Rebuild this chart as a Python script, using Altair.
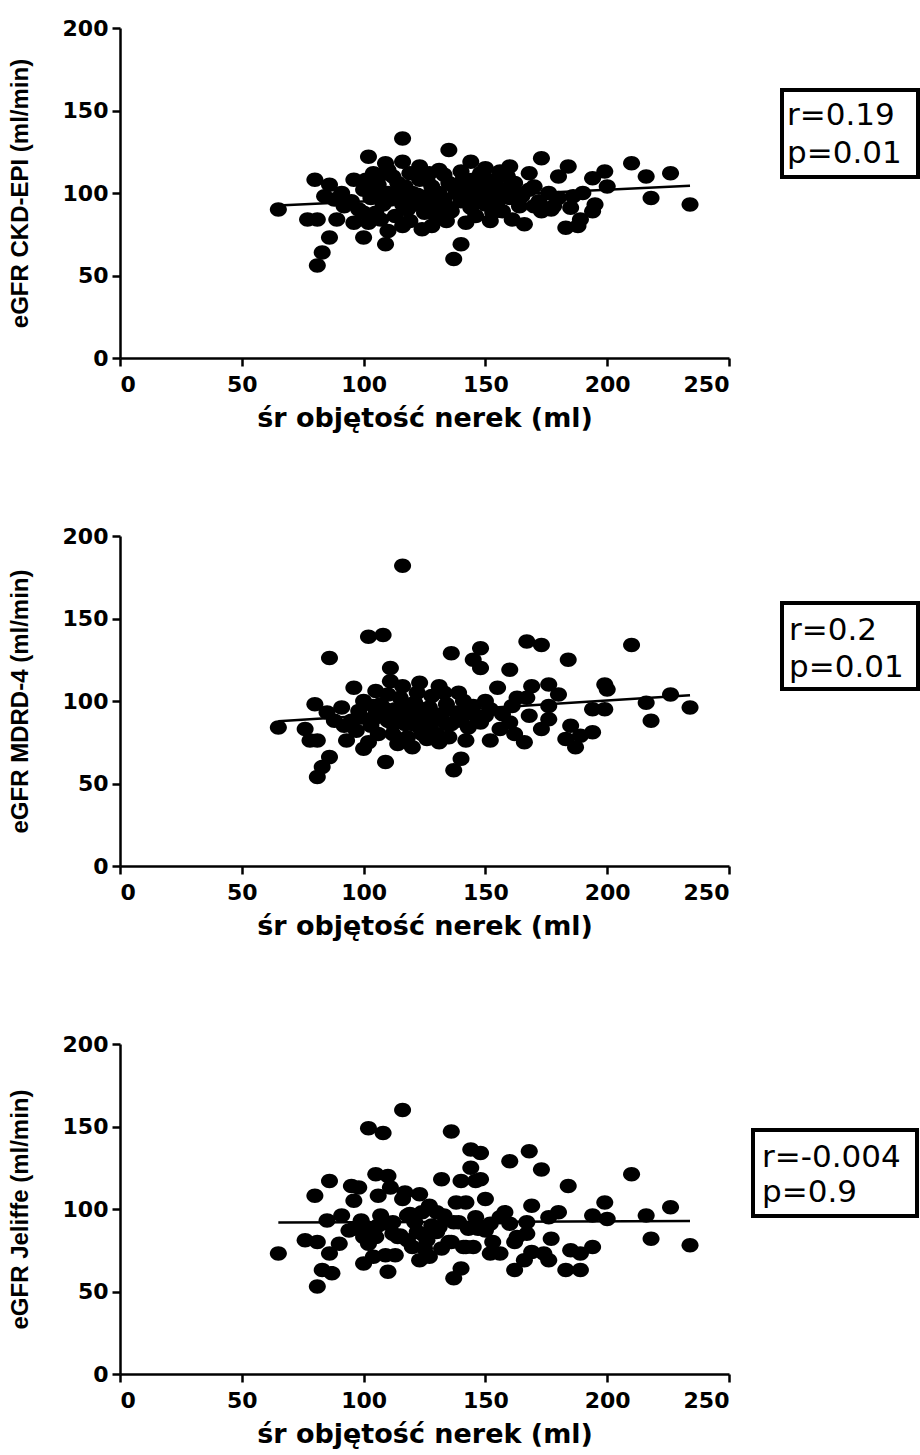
import altair as alt
import pandas as pd

# ---------------- data ----------------
x_ticks = [0, 50, 100, 150, 200, 250]
y_ticks = [0, 50, 100, 150, 200]
x_title = "śr objętość nerek (ml)"
y_titles = ["eGFR CKD-EPI (ml/min)", "eGFR MDRD-4 (ml/min)", "eGFR Jeliffe (ml/min)"]
r_labels = ["r=0.19", "r=0.2", "r=-0.004"]
p_labels = ["p=0.01", "p=0.01", "p=0.9"]

# Panel 1: CKD-EPI
x1 = [65, 80, 86, 84, 91, 96, 77, 81, 89, 86, 83, 81, 100, 109, 102, 110, 102, 116, 109, 116,
      123, 135, 133, 140, 144, 140, 137, 142, 124, 116, 130, 150, 160, 173, 184, 210, 226, 216, 199, 194,
      200, 180, 168, 168, 176, 218, 234, 170, 177, 173, 185, 194, 183, 188, 189, 152, 161, 166,
      95, 98, 100, 103, 105, 106, 108, 110, 112, 113, 115, 117, 118, 120, 121, 123, 125, 126, 128, 130,
      131, 133, 135, 136, 138, 140, 142, 144, 145, 147, 149, 150, 152, 154, 155, 157, 158, 160, 162, 164,
      104, 110, 118, 124, 127, 132, 146, 153, 159, 163, 170, 172, 180, 190, 195, 178, 186, 156, 113, 100,
      92, 88, 96, 107, 119, 128, 134, 143, 148, 165,
      101, 107, 114, 119, 126, 131, 137, 141, 146, 151, 156, 161, 128, 122, 116, 134, 140, 148, 111, 105]
y1 = [90, 108, 105, 98, 100, 108, 84, 84, 84, 73, 64, 56, 73, 69, 82, 77, 122, 133, 118, 119,
      116, 126, 111, 113, 119, 69, 60, 82, 78, 80, 85, 115, 116, 121, 116, 118, 112, 110, 113, 109,
      104, 110, 112, 102, 100, 97, 93, 92, 90, 89, 91, 89, 79, 80, 84, 83, 84, 81,
      95, 90, 102, 97, 88, 105, 93, 100, 110, 86, 97, 104, 90, 100, 93, 108, 88, 98, 104, 92,
      100, 96, 106, 89, 100, 95, 103, 91, 108, 98, 104, 93, 100, 107, 95, 89, 102, 97, 106, 92,
      112, 114, 96, 94, 112, 87, 86, 88, 110, 100, 104, 95, 97, 100, 93, 92, 98, 113, 99, 88,
      92, 96, 82, 84, 83, 80, 83, 97, 112, 98,
      108, 111, 106, 112, 108, 114, 104, 109, 101, 108, 99, 106, 96, 99, 93, 92, 100, 95, 96, 99]

# Panel 2: MDRD-4
x2 = [116, 102, 108, 86, 136, 148, 145, 111, 111, 96, 105, 123, 131, 116, 139, 80, 91, 85, 65, 76,
      78, 81, 93, 86, 83, 81, 100, 102, 109, 140, 137, 142, 120, 131, 124, 145, 148,
      167, 173, 210, 184, 160, 148, 169, 176, 199, 200, 180, 167, 155, 226, 216, 234, 218, 194, 199,
      176, 161, 168, 176, 173, 185, 194, 183, 187, 189, 152, 166, 162, 160, 150, 156,
      95, 98, 100, 103, 105, 107, 110, 112, 113, 115, 117, 119, 121, 123, 125, 127, 128, 130, 132, 134,
      136, 138, 141, 143, 146, 118, 126, 106, 97, 110, 135, 122, 140, 150, 152, 157, 163, 88, 92, 114,
      129, 133, 104,
      99, 104, 109, 114, 120, 124, 129, 134, 139, 144, 112, 117, 127]
y2 = [182, 139, 140, 126, 129, 132, 125, 120, 112, 108, 106, 111, 109, 109, 105, 98, 96, 93, 84, 83,
      76, 76, 76, 66, 60, 54, 71, 75, 63, 65, 58, 76, 72, 75, 80, 97, 87,
      136, 134, 134, 125, 119, 120, 109, 110, 110, 107, 104, 102, 108, 104, 99, 96, 88, 95, 95,
      97, 97, 91, 89, 83, 85, 81, 77, 72, 79, 76, 75, 80, 87, 91, 83,
      88, 94, 100, 85, 92, 98, 88, 80, 95, 102, 86, 92, 99, 84, 90, 96, 103, 80, 92, 98,
      86, 93, 100, 84, 91, 78, 77, 80, 82, 104, 78, 105, 88, 100, 95, 92, 102, 88, 85, 74,
      88, 105, 97,
      90, 89, 95, 90, 86, 95, 91, 86, 90, 94, 86, 98, 83]

# Panel 3: Jeliffe
x3 = [116, 102, 108, 136, 144, 148, 144, 132, 86, 80, 105, 110, 95, 98, 111, 123, 116, 106, 96, 140,
      146, 142, 85, 91, 65, 76, 81, 86, 90, 83, 87, 81, 100, 102, 110, 109, 123, 127, 137, 140,
      142, 130, 118, 124, 137, 101, 94, 114, 120, 105, 110, 131, 148, 145,
      168, 160, 173, 210, 184, 148, 150, 169, 180, 176, 199, 194, 200, 216, 226, 218, 234, 177, 167, 167,
      156, 160, 153, 162, 169, 166, 174, 176, 162, 185, 189, 194, 183, 189, 152, 156, 150,
      99, 103, 107, 112, 115, 119, 122, 126, 128, 133, 135, 139, 143, 146, 113, 125, 132, 96, 104, 117,
      127, 138, 152, 158, 163,
      100, 106, 112, 118, 124, 130, 136, 141, 147, 121]
y3 = [160, 149, 146, 147, 136, 134, 125, 118, 117, 108, 121, 120, 114, 113, 113, 109, 106, 108, 105, 117,
      117, 104, 93, 96, 73, 81, 80, 73, 79, 63, 61, 53, 67, 79, 62, 72, 69, 71, 58, 64,
      77, 98, 96, 98, 92, 89, 87, 83, 77, 83, 91, 89, 89, 77,
      135, 129, 124, 121, 114, 118, 106, 102, 98, 95, 104, 96, 94, 96, 101, 82, 78, 82, 92, 85,
      95, 91, 80, 80, 74, 69, 73, 69, 63, 75, 73, 77, 63, 63, 73, 73, 87,
      93, 88, 96, 92, 84, 97, 86, 81, 90, 96, 80, 92, 88, 95, 72, 76, 76, 88, 71, 110,
      102, 104, 91, 98, 83,
      83, 90, 85, 81, 85, 86, 80, 77, 88, 92]

# ---------------- chart ----------------
ELLIPSE = "M-1,0A1,0.85,0,1,1,1,0A1,0.85,0,1,1,-1,0Z"
W, H = 609, 330
PAGE_W, PAGE_H, LEFT, TOP = 920, 1455, 120, 28
BOX_FONT = 31

# box geometry per panel (pixels relative to plot origin): x0, x1, y0, y1, text x, r baseline, p baseline
boxes = [
    (662, 798, 62, 149, 667, 97, 135),
    (662, 798, 67, 153, 669, 104, 141),
    (633, 797, 86, 172, 642, 123, 158),
]


def panel(xs, ys, ytitle, r, p, box, frame=False):
    df = pd.DataFrame({"x": xs, "y": ys})
    base = alt.Chart(df)
    xenc = alt.X("x:Q", scale=alt.Scale(domain=[0, 250], nice=False, zero=False),
                 axis=alt.Axis(values=x_ticks, title=x_title))
    yenc = alt.Y("y:Q", scale=alt.Scale(domain=[0, 200], nice=False),
                 axis=alt.Axis(values=y_ticks, title=ytitle))
    pts = base.mark_point(shape=ELLIPSE, size=290, filled=True, color="black",
                          opacity=1).encode(x=xenc, y=yenc)
    line = base.transform_regression("x", "y").mark_line(
        color="black", strokeWidth=2.5).encode(x="x:Q", y="y:Q")
    stat = pd.DataFrame({"r": [r], "p": [p]})
    rect = alt.Chart(stat).mark_rect(fill="white", stroke="black", strokeWidth=4).encode(
        x=alt.value(box[0]), x2=alt.value(box[1]), y=alt.value(box[2]), y2=alt.value(box[3]))
    rt = alt.Chart(stat).mark_text(align="left", baseline="alphabetic", font="DejaVu Sans",
                                   fontSize=BOX_FONT, color="black").encode(
        x=alt.value(box[4]), y=alt.value(box[5]), text="r:N")
    pt = alt.Chart(stat).mark_text(align="left", baseline="alphabetic", font="DejaVu Sans",
                                   fontSize=BOX_FONT, color="black").encode(
        x=alt.value(box[4]), y=alt.value(box[6]), text="p:N")
    layers = [pts, line, rect, rt, pt]
    if frame:
        # invisible page frame so the page bounds are fixed
        layers.insert(0, alt.Chart(stat).mark_rect(opacity=0, fill="white").encode(
            x=alt.value(-LEFT), x2=alt.value(PAGE_W - LEFT),
            y=alt.value(-TOP), y2=alt.value(PAGE_H - TOP)))
    return alt.layer(*layers).properties(width=W, height=H)


charts = [
    panel(x1, y1, y_titles[0], r_labels[0], p_labels[0], boxes[0], frame=True),
    panel(x2, y2, y_titles[1], r_labels[1], p_labels[1], boxes[1]),
    panel(x3, y3, y_titles[2], r_labels[2], p_labels[2], boxes[2]),
]

chart = alt.vconcat(*charts, spacing=178, bounds="flush").properties(
    padding=0,
    background="white",
).configure_view(stroke=None).configure_axis(
    grid=False,
    domainColor="black", domainWidth=2.5,
    tickColor="black", tickWidth=2.5, tickSize=8,
    labelColor="black", labelFont="DejaVu Sans", labelFontWeight="bold", labelFontSize=22,
    titleColor="black", titleFontWeight="bold",
).configure_axisX(
    labelPadding=8, titleFont="DejaVu Sans", titleFontSize=27, titlePadding=10,
).configure_axisY(
    labelPadding=4, titleFont="Liberation Sans", titleFontSize=24, titlePadding=30,
)

chart.save("out.html", embed_options={"renderer": "svg", "actions": False})
